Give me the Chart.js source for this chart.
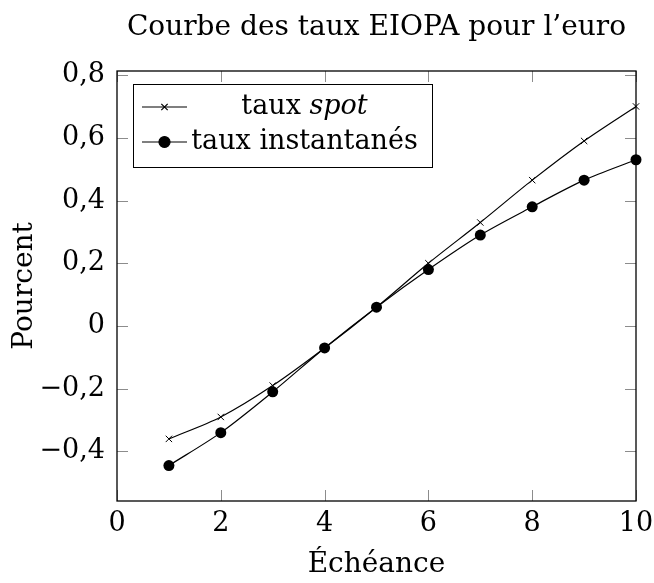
<!DOCTYPE html>
<html lang="fr">
<head>
<meta charset="utf-8">
<title>Courbe des taux EIOPA pour l'euro</title>
<script src="https://cdn.jsdelivr.net/npm/chart.js@4/dist/chart.umd.min.js"></script>
<style>
  html, body { margin: 0; padding: 0; background: #fff; }
  #chart { display: block; }
</style>
</head>
<body>
<canvas id="chart" width="654" height="583"></canvas>
<script>
// Échéances (années) et taux
const maturities = [1, 2, 3, 4, 5, 6, 7, 8, 9, 10];
const spotRates = [-0.36, -0.29, -0.19, -0.07, 0.06, 0.20, 0.33, 0.465, 0.59, 0.70];
const forwardRates = [-0.445, -0.34, -0.21, -0.07, 0.06, 0.18, 0.29, 0.38, 0.465, 0.53];

// Graduations des axes
const xTicks = [0, 2, 4, 6, 8, 10];
const yTicks = [-0.4, -0.2, 0, 0.2, 0.4, 0.6, 0.8];

// Légende (le mot « spot » est en italique)
const seriesLabels = ['taux spot', 'taux instantanés'];
const legendParts = [
  [['taux ', false], ['spot', true]],
  [['taux instantanés', false]]
];

const FONT = "'DejaVu Serif', serif";
Chart.defaults.font.family = FONT;
Chart.defaults.color = '#000';

// format français : virgule décimale, vrai signe moins
function fmtNum(v) {
  if (Math.abs(v) < 1e-9) return '0';
  const s = Math.abs(v).toFixed(1).replace('.', ',');
  return (v < 0 ? '\u2212' : '') + s;
}

function toPoints(ys) {
  return maturities.map((x, i) => ({ x: x, y: ys[i] }));
}

// Cadre, petites graduations intérieures et légende dans le cadre
const pgfFrame = {
  id: 'pgfFrame',
  beforeDatasetsDraw(chart) {
    const ctx = chart.ctx;
    const a = chart.chartArea;
    const sx = chart.scales.x, sy = chart.scales.y;
    ctx.save();
    ctx.strokeStyle = '#8c8c8c';
    ctx.lineWidth = 1;
    ctx.beginPath();
    xTicks.forEach(v => {
      const px = Math.round(sx.getPixelForValue(v)) + 0.5;
      ctx.moveTo(px, a.bottom); ctx.lineTo(px, a.bottom - 11);
      ctx.moveTo(px, a.top); ctx.lineTo(px, a.top + 11);
    });
    yTicks.forEach(v => {
      const py = Math.round(sy.getPixelForValue(v)) + 0.5;
      ctx.moveTo(a.left, py); ctx.lineTo(a.left + 11, py);
      ctx.moveTo(a.right, py); ctx.lineTo(a.right - 11, py);
    });
    ctx.stroke();
    ctx.restore();
  },
  afterDatasetsDraw(chart) {
    const ctx = chart.ctx;
    const a = chart.chartArea;
    ctx.save();
    ctx.strokeStyle = '#000';
    ctx.lineWidth = 1.3;
    ctx.strokeRect(a.left, a.top, a.right - a.left, a.bottom - a.top);

    // légende
    const bx = a.left + 16, by = a.top + 13, bw = 299, bh = 83;
    ctx.fillStyle = '#fff';
    ctx.fillRect(bx, by, bw, bh);
    ctx.lineWidth = 1;
    ctx.strokeRect(bx + 0.5, by + 0.5, bw, bh);

    const textCenter = bx + 171.5;
    chart.data.datasets.forEach((ds, i) => {
      const y = by + 23 + i * 35;
      ctx.strokeStyle = '#000';
      ctx.fillStyle = '#000';
      ctx.lineWidth = 1.2;
      ctx.beginPath();
      ctx.moveTo(bx + 9, y);
      ctx.lineTo(bx + 54, y);
      ctx.stroke();
      Chart.helpers.drawPoint(ctx, {
        pointStyle: ds.pointStyle,
        radius: ds.pointRadius,
        rotation: 0,
        borderWidth: 1
      }, bx + 31.5, y);

      const parts = legendParts[i];
      let total = 0;
      parts.forEach(p => {
        ctx.font = (p[1] ? 'italic ' : '') + '27px ' + FONT;
        total += ctx.measureText(p[0]).width;
      });
      let x = textCenter - total / 2;
      ctx.textBaseline = 'middle';
      ctx.textAlign = 'left';
      parts.forEach(p => {
        ctx.font = (p[1] ? 'italic ' : '') + '27px ' + FONT;
        ctx.fillText(p[0], x, y);
        x += ctx.measureText(p[0]).width;
      });
    });
    ctx.restore();
  }
};

new Chart(document.getElementById('chart'), {
  type: 'line',
  data: {
    datasets: [
      {
        label: seriesLabels[0],
        data: toPoints(spotRates),
        borderColor: '#000',
        backgroundColor: '#000',
        borderWidth: 1.2,
        pointStyle: 'crossRot',
        pointRadius: 4.5,
        pointBorderWidth: 1,
        tension: 0.3,
        clip: false,
        order: 1
      },
      {
        label: seriesLabels[1],
        data: toPoints(forwardRates),
        borderColor: '#000',
        backgroundColor: '#000',
        borderWidth: 1.2,
        pointStyle: 'circle',
        pointRadius: 5.5,
        pointBorderWidth: 0,
        tension: 0.3,
        clip: false,
        order: 0
      }
    ]
  },
  options: {
    responsive: false,
    animation: false,
    layout: { padding: { left: 0, right: 18, top: 0, bottom: 0 } },
    plugins: {
      legend: { display: false },
      tooltip: { enabled: false },
      title: {
        display: true,
        fullSize: false,
        text: "Courbe des taux EIOPA pour l\u2019euro",
        font: { family: FONT, size: 28, weight: 'normal' },
        color: '#000',
        padding: { top: 11, bottom: 26.4 }
      }
    },
    scales: {
      x: {
        type: 'linear',
        min: 0,
        max: 10,
        grid: { display: false, drawTicks: false },
        border: { display: false },
        afterBuildTicks: s => { s.ticks = xTicks.map(v => ({ value: v })); },
        afterFit: s => {
          s.height = 82;
          s.paddingLeft = 0;
          s.paddingRight = 0;
        },
        ticks: {
          padding: 7,
          maxRotation: 0,
          font: { size: 27 },
          callback: v => String(v)
        },
        title: {
          display: true,
          text: 'Échéance',
          font: { size: 28 },
          padding: { top: 0, bottom: 1 }
        }
      },
      y: {
        type: 'linear',
        min: -0.558,
        max: 0.813,
        grid: { display: false, drawTicks: false },
        border: { display: false },
        afterBuildTicks: s => { s.ticks = yTicks.map(v => ({ value: v })); },
        afterFit: s => { s.width = 117; },
        ticks: {
          padding: 12,
          font: { size: 27 },
          callback: v => fmtNum(v)
        },
        title: {
          display: true,
          text: 'Pourcent',
          font: { size: 28 },
          padding: { top: 8, bottom: 0 }
        }
      }
    }
  },
  plugins: [pgfFrame]
});
</script>
</body>
</html>
